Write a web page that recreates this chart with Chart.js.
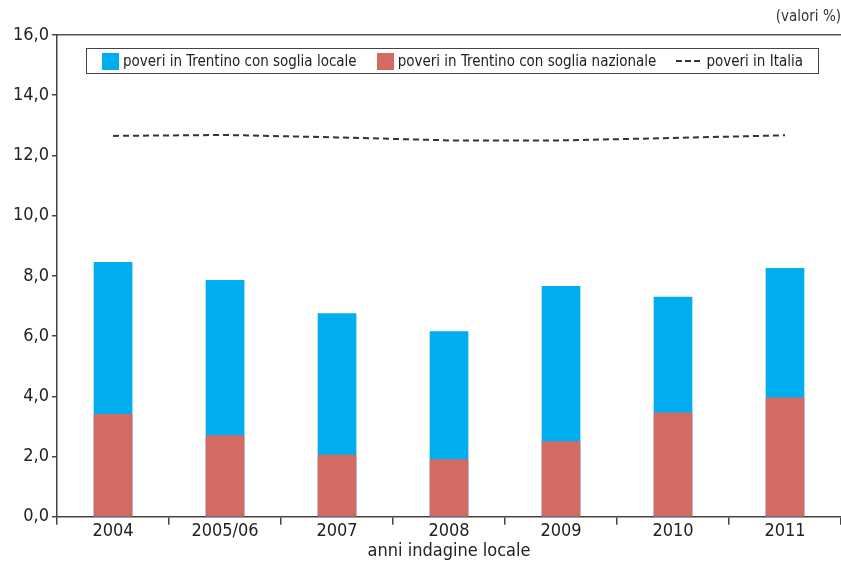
<!DOCTYPE html>
<html>
<head>
<meta charset="utf-8">
<script src="https://cdn.jsdelivr.net/npm/chart.js@4"></script>
<style>
  body { margin: 0; background: #fff; }
  #wrap { position: relative; width: 841px; height: 562px; }
  #legend {
    position: absolute; left: 86px; top: 48px; width: 733px; height: 26px;
    border: 1px solid #444; box-sizing: border-box;
    display: flex; justify-content: center; align-items: center; gap: 20px;
    font-family: "DejaVu Sans Condensed", "DejaVu Sans", sans-serif; font-size: 15px; color: #222;
  }
  #legend .item { display: flex; align-items: center; white-space: nowrap; }
  #legend .sw { display: inline-block; width: 17px; height: 17px; margin-right: 4px; }
  #legend .dash { display: inline-block; width: 24px; border-top: 2px dashed #333; margin-right: 6px; }
</style>
</head>
<body>
<div id="wrap">
  <canvas id="chart"></canvas>
  <div id="legend"></div>
</div>
<script>
var anni = ['2004', '2005/06', '2007', '2008', '2009', '2010', '2011'];
var sogliaLocale = [8.45, 7.85, 6.75, 6.15, 7.65, 7.3, 8.25];
var sogliaNazionale = [3.4, 2.7, 2.05, 1.9, 2.5, 3.45, 3.95];
var poveriItalia = [12.65, 12.68, 12.6, 12.5, 12.5, 12.58, 12.67];
var yTicks = [0, 2, 4, 6, 8, 10, 12, 14, 16];

var font = "'DejaVu Sans Condensed', 'DejaVu Sans', sans-serif";
var blu = '#00aeef';
var rosso = '#d46b62';

// legend in html, drawn inside the plot frame
const htmlLegend = {
  id: 'htmlLegend',
  afterUpdate(chart) {
    var box = document.getElementById('legend');
    box.innerHTML = '';
    chart.data.datasets.forEach(function (ds) {
      var item = document.createElement('span');
      item.className = 'item';
      var mark = document.createElement('span');
      if (ds.type === 'line') {
        mark.className = 'dash';
      } else {
        mark.className = 'sw';
        mark.style.background = ds.backgroundColor;
      }
      item.appendChild(mark);
      item.appendChild(document.createTextNode(ds.label));
      box.appendChild(item);
    });
  }
};

new Chart(document.getElementById('chart'), {
  data: {
    labels: anni,
    datasets: [
      {
        type: 'bar',
        label: 'poveri in Trentino con soglia locale',
        data: sogliaLocale,
        backgroundColor: blu,
        borderWidth: 0,
        grouped: false,
        barThickness: 38,
        order: 2
      },
      {
        type: 'bar',
        label: 'poveri in Trentino con soglia nazionale',
        data: sogliaNazionale,
        backgroundColor: rosso,
        borderWidth: 0,
        grouped: false,
        barThickness: 38,
        order: 1
      },
      {
        type: 'line',
        label: 'poveri in Italia',
        data: poveriItalia,
        borderColor: '#333',
        borderWidth: 2,
        borderDash: [6, 4],
        pointRadius: 0,
        fill: false,
        tension: 0,
        order: 0
      }
    ]
  },
  options: {
    responsive: true,
    maintainAspectRatio: false,
    animation: false,
    layout: { padding: { left: 10, right: 0, top: 0, bottom: 0 } },
    plugins: {
      legend: { display: false },
      tooltip: { enabled: false },
      title: {
        display: true,
        text: '(valori %)',
        align: 'end',
        color: '#333',
        font: { family: font, size: 15, weight: 'normal' },
        padding: { top: 8, bottom: 9 }
      }
    },
    scales: {
      x: {
        offset: true,
        grid: { display: true, offset: true, drawOnChartArea: false, tickLength: 8, color: '#444', lineWidth: 1.5 },
        border: { color: '#444', width: 1.5 },
        ticks: { color: '#222', padding: -4, font: { family: font, size: 18 } },
        title: {
          display: true,
          text: 'anni indagine locale',
          color: '#222',
          font: { family: font, size: 18 },
          padding: { top: 2, bottom: 0 }
        }
      },
      xTop: {
        type: 'category',
        position: 'top',
        grid: { display: false, drawTicks: false },
        ticks: { display: false },
        border: { color: '#555', width: 1.5 }
      },
      y: {
        min: 0,
        max: 16,
        afterBuildTicks: function (axis) {
          axis.ticks = yTicks.map(function (v) { return { value: v }; });
        },
        grid: { drawOnChartArea: false, tickLength: 5, color: '#444', lineWidth: 1.5 },
        border: { color: '#444', width: 1.5 },
        ticks: {
          color: '#222',
          padding: 3,
          font: { family: font, size: 18 },
          callback: function (v) { return v.toFixed(1).replace('.', ','); }
        }
      }
    }
  },
  plugins: [htmlLegend]
});
</script>
</body>
</html>
